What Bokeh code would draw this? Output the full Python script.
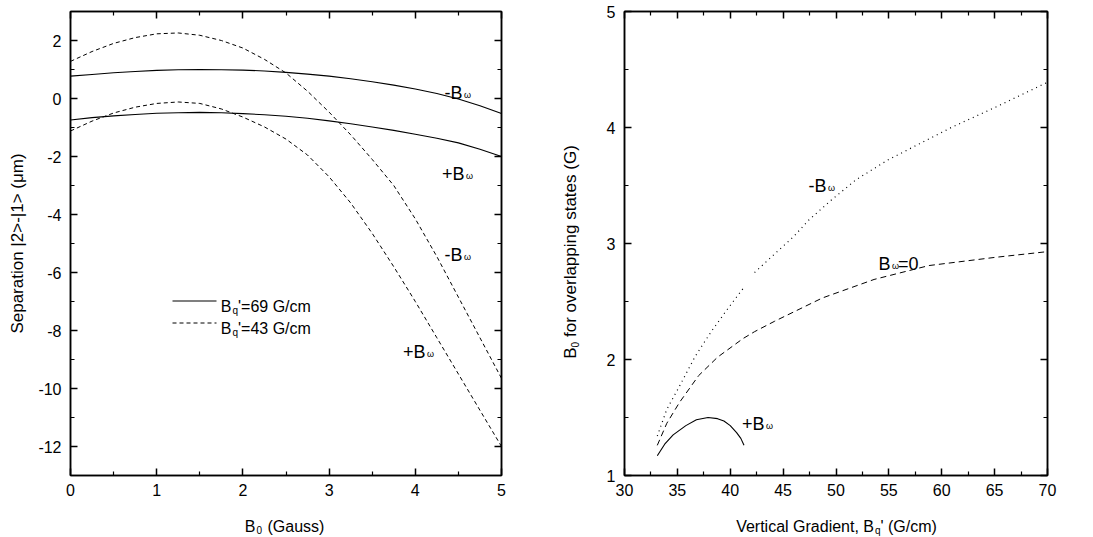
import math
from bokeh.plotting import figure
from bokeh.layouts import row, column
from bokeh.models import Label, LinearAxis, FixedTicker, Range1d, CustomJSTickFormatter
from bokeh.embed import file_html
from bokeh.resources import INLINE

FONT = "Liberation Sans"
NAN = float("nan")

# ---------------- Left panel data: separation |2>-|1> (um) vs B0 (Gauss) -------------
b0_gauss = [0.0, 0.25, 0.5, 0.75, 1.0, 1.25, 1.5, 1.75, 2.0, 2.25, 2.5,
            2.75, 3.0, 3.25, 3.5, 3.75, 4.0, 4.25, 4.5, 4.75, 5.0]
sep_69_minus = [0.77, 0.83, 0.89, 0.93, 0.97, 0.99, 1.00, 0.99, 0.98, 0.95, 0.90,
                0.84, 0.77, 0.68, 0.58, 0.46, 0.33, 0.17, -0.02, -0.25, -0.52]
sep_69_plus = [-0.74, -0.66, -0.60, -0.55, -0.51, -0.49, -0.48, -0.49, -0.52, -0.56, -0.61,
               -0.68, -0.77, -0.87, -0.98, -1.10, -1.23, -1.37, -1.53, -1.75, -2.00]
sep_43_minus = [1.28, 1.62, 1.90, 2.10, 2.23, 2.26, 2.18, 2.00, 1.74, 1.35, 0.88,
                0.25, -0.47, -1.25, -2.10, -3.00, -4.15, -5.45, -6.85, -8.25, -9.65]
sep_43_plus = [-1.12, -0.78, -0.50, -0.30, -0.17, -0.12, -0.17, -0.36, -0.64, -0.98, -1.40,
               -1.95, -2.70, -3.60, -4.65, -5.80, -7.00, -8.25, -9.50, -10.75, -12.00]

left_xticks = [0, 1, 2, 3, 4, 5]
left_xminor = [0.5, 1.5, 2.5, 3.5, 4.5]
left_yticks = [-12, -10, -8, -6, -4, -2, 0, 2]
left_yminor = [-13, -11, -9, -7, -5, -3, -1, 1, 3]

# ---------------- Right panel data: B0 for overlapping states vs gradient ----------------
grad_minus = [33.1, 34.0, 35.2, 36.7, 38.2, 39.7, 41.2, NAN, 42.3, 44.2, 46.0, 47.4,
              49.5, 51.9, 54.9, 57.9, 60.9, 65.2, 70.0]
b0_minus = [1.34, 1.57, 1.77, 2.03, 2.24, 2.43, 2.61, NAN, 2.75, 2.91, 3.06, 3.20,
            3.37, 3.55, 3.72, 3.86, 4.00, 4.18, 4.39]
grad_zero = [33.1, 34.0, 35.2, 37.0, 38.8, 41.2, 42.3, 44.2, 46.0, 48.7, 53.6, 58.8, 65.0, 70.0]
b0_zero = [1.26, 1.45, 1.63, 1.86, 2.02, 2.18, 2.24, 2.33, 2.41, 2.53, 2.69, 2.81, 2.88, 2.93]
grad_plus = [33.1, 33.8, 34.6, 35.8, 36.8, 37.9, 38.8, 39.4, 40.0, 40.6, 41.0, 41.3]
b0_plus = [1.17, 1.27, 1.35, 1.43, 1.48, 1.50, 1.49, 1.47, 1.43, 1.37, 1.32, 1.26]

right_xticks = [30, 35, 40, 45, 50, 55, 60, 65, 70]
right_xminor = [32.5, 37.5, 42.5, 47.5, 52.5, 57.5, 62.5, 67.5]
right_yticks = [1, 2, 3, 4, 5]
right_yminor = [1.5, 2.5, 3.5, 4.5]

# ---------------- geometry (page pixels) ----------------
PAGE_W, PAGE_H = 1093, 537
TOP_H = 507                     # height of the row holding the two panels
STRIP_H = PAGE_H - TOP_H        # bottom strip with the x-axis titles
L_W, L_ML, L_MR, L_MT, L_MB = 540, 70, 39, 11, 32     # left panel: frame x 70..501, y 11..475
YS_W = 50                                             # strip holding the right y title
R_W, R_ML, R_MR, R_MT, R_MB = 503, 34, 46, 11, 31     # right panel: frame x 624..1047, y 11..476
L_XR, L_YR = (0, 5), (-13, 3)
R_XR, R_YR = (30, 70), (1, 5)
R_OFF = L_W + YS_W


def LX(sx):
    return L_XR[0] + (sx - L_ML) * (L_XR[1] - L_XR[0]) / (L_W - L_ML - L_MR)


def LY(sy):
    return L_YR[1] - (sy - L_MT) * (L_YR[1] - L_YR[0]) / (TOP_H - L_MT - L_MB)


def RX(sx):
    return R_XR[0] + (sx - R_OFF - R_ML) * (R_XR[1] - R_XR[0]) / (R_W - R_ML - R_MR)


def RY(sy):
    return R_YR[1] - (sy - R_MT) * (R_YR[1] - R_YR[0]) / (TOP_H - R_MT - R_MB)


def style_axis(ax, ticks, minor, labels=True, standoff=8):
    ax.ticker = FixedTicker(ticks=ticks, minor_ticks=minor)
    ax.axis_line_color = "black"
    ax.axis_line_width = 1.5
    ax.major_tick_line_color = "black"
    ax.major_tick_line_width = 1.5
    ax.minor_tick_line_color = "black"
    ax.minor_tick_line_width = 1.2
    ax.major_tick_in = 7
    ax.major_tick_out = 0
    ax.minor_tick_in = 4
    ax.minor_tick_out = 0
    ax.major_label_text_font = FONT
    ax.major_label_text_font_size = "16px"
    ax.major_label_text_color = "black"
    ax.major_label_standoff = standoff
    if labels:
        ax.formatter = CustomJSTickFormatter(code="return String(tick);")
    else:
        ax.formatter = CustomJSTickFormatter(code="return '';")
        ax.major_label_standoff = 0


def make_fig(width, ml, mr, mt, mb, xr, yr, xt, xm, yt, ym):
    p = figure(width=width, height=TOP_H, x_range=Range1d(*xr), y_range=Range1d(*yr),
               output_backend="svg", toolbar_location=None,
               min_border_left=ml, min_border_right=mr, min_border_top=mt, min_border_bottom=mb)
    p.grid.visible = False
    p.outline_line_color = "black"
    p.outline_line_width = 1.5
    p.background_fill_color = "white"
    p.border_fill_color = "white"
    style_axis(p.xaxis[0], xt, xm, standoff=8)
    style_axis(p.yaxis[0], yt, ym, standoff=9)
    top = LinearAxis()
    style_axis(top, xt, xm, labels=False)
    p.add_layout(top, "above")
    right = LinearAxis()
    style_axis(right, yt, ym, labels=False)
    p.add_layout(right, "right")
    return p


def make_strip(width, height):
    s = figure(width=width, height=height, x_range=Range1d(0, width), y_range=Range1d(0, height),
               output_backend="svg", toolbar_location=None,
               x_axis_location=None, y_axis_location=None,
               min_border_left=0, min_border_right=0, min_border_top=0, min_border_bottom=0)
    s.grid.visible = False
    s.outline_line_color = None
    s.background_fill_color = "white"
    s.border_fill_color = "white"
    return s


def lab(p, x, y, text, size, align="left", angle=0.0):
    """Label in data units (inside the frame)."""
    p.add_layout(Label(x=x, y=y, text=text, text_font=FONT, text_font_size=f"{size}px",
                       text_align=align, text_baseline="alphabetic", angle=angle,
                       text_color="black"))


def labc(p, x, y, text, size, align="left", angle=0.0):
    """Label in canvas pixels (top-down) of a strip figure."""
    p.add_layout(Label(x=x, y=y, x_units="canvas", y_units="canvas", text=text,
                       text_font=FONT, text_font_size=f"{size}px",
                       text_align=align, text_baseline="alphabetic", angle=angle,
                       text_color="black"))


# ================= LEFT =================
pl = make_fig(L_W, L_ML, L_MR, L_MT, L_MB, L_XR, L_YR,
              left_xticks, left_xminor, left_yticks, left_yminor)
pl.yaxis[0].axis_label = "Separation |2>-|1> (\u03bcm)"
pl.yaxis[0].axis_label_text_font = FONT
pl.yaxis[0].axis_label_text_font_size = "17px"
pl.yaxis[0].axis_label_text_font_style = "normal"
pl.yaxis[0].axis_label_text_color = "black"
pl.yaxis[0].axis_label_standoff = 8

pl.line(b0_gauss, sep_69_minus, line_color="black", line_width=1.1)
pl.line(b0_gauss, sep_69_plus, line_color="black", line_width=1.1)
pl.line(b0_gauss, sep_43_minus, line_color="black", line_width=1.0, line_dash="4 3")
pl.line(b0_gauss, sep_43_plus, line_color="black", line_width=1.0, line_dash="4 3")

# curve annotations
for (sx, sy, sign) in [(462, 92, "-"), (464, 173, "+"), (462, 254, "-"), (425, 351, "+")]:
    lab(pl, LX(sx), LY(sy), sign + "B", 18, align="right")
    lab(pl, LX(sx + 1.5), LY(sy + 2), "\u03c9", 9)

# legend
pl.line([LX(172), LX(216)], [LY(300.5), LY(300.5)], line_color="black", line_width=1.1)
pl.line([LX(172), LX(216)], [LY(322.5), LY(322.5)], line_color="black", line_width=1.0,
        line_dash="4 3")
for sy, txt in [(306, "'=69 G/cm"), (328, "'=43 G/cm")]:
    lab(pl, LX(231), LY(sy), "B", 16, align="right")
    lab(pl, LX(232), LY(sy + 4), "q", 10)
    lab(pl, LX(237.5), LY(sy), txt, 16)

# ================= RIGHT =================
pr = make_fig(R_W, R_ML, R_MR, R_MT, R_MB, R_XR, R_YR,
              right_xticks, right_xminor, right_yticks, right_yminor)

pr.line(grad_minus, b0_minus, line_color="black", line_width=1.2, line_dash="1 4")
pr.line(grad_zero, b0_zero, line_color="black", line_width=1.0, line_dash="6 4")
pr.line(grad_plus, b0_plus, line_color="black", line_width=1.1)

lab(pr, RX(826), RY(186), "-B", 18, align="right")
lab(pr, RX(827.5), RY(188), "\u03c9", 9)
lab(pr, RX(890), RY(264), "B", 18, align="right")
lab(pr, RX(891.5), RY(266), "\u03c9", 9)
lab(pr, RX(897.5), RY(264), "=0", 18)
lab(pr, RX(764), RY(424), "+B", 18, align="right")
lab(pr, RX(765.5), RY(426), "\u03c9", 9)

# ================= y title strip of the right panel =================
ys = make_strip(YS_W, TOP_H)
ang = math.pi / 2
bx = 570 - L_W          # baseline x inside the strip
labc(ys, bx, 347, "B", 17, align="right", angle=ang)
labc(ys, bx + 4, 347, "0", 10, align="left", angle=ang)
labc(ys, bx, 336.5, "for overlapping states (G)", 17, align="left", angle=ang)

# ================= x title strip =================
xs = make_strip(PAGE_W, STRIP_H)
by = 526 - TOP_H        # baseline y inside the strip
labc(xs, 255, by, "B", 16, align="right")
labc(xs, 256, by + 3, "0", 10)
labc(xs, 267, by, "(Gauss)", 16)
labc(xs, 873.5, by, "Vertical Gradient, B", 16, align="right")
labc(xs, 874.5, by + 4, "q", 10)
labc(xs, 880, by, "' (G/cm)", 16)

layout = column(row(pl, ys, pr), xs)
open("out.html", "w").write(file_html(layout, INLINE))
